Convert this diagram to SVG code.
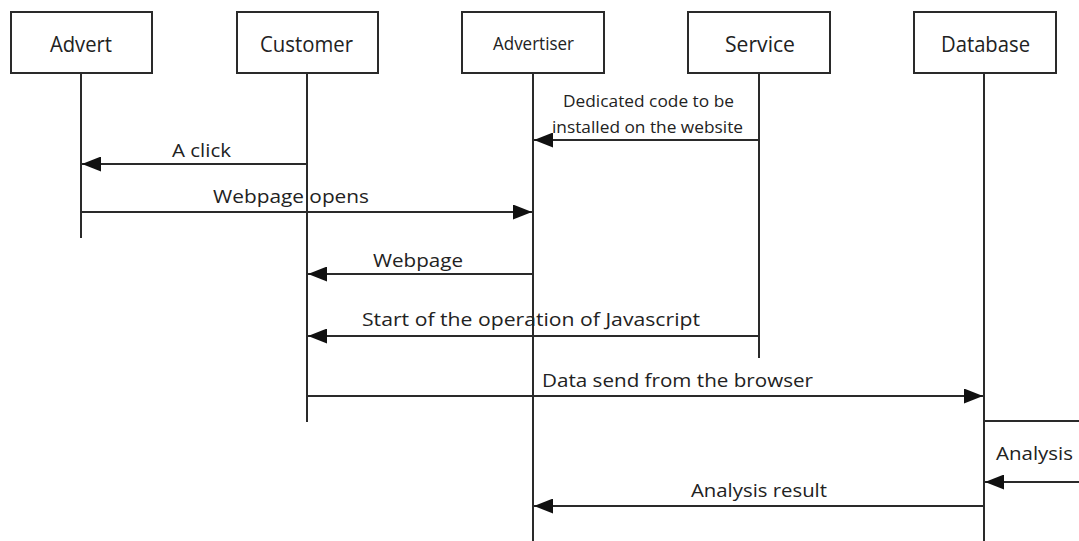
<svg xmlns="http://www.w3.org/2000/svg" width="1079" height="541" viewBox="0 0 1079 541">
<style>
.box{fill:#fff;stroke:#2a2a2a;stroke-width:2}
.life{stroke:#2a2a2a;stroke-width:2;fill:none}
.msg{stroke:#2a2a2a;stroke-width:2;fill:none}
text{font-family:"Open Sans","Liberation Sans",Arial,sans-serif;fill:#222}
.lbl{font-size:21px}
.m{font-size:19px}
</style>
<defs>
<marker id="ah" markerWidth="19" markerHeight="15" refX="19" refY="7.5" orient="auto" markerUnits="userSpaceOnUse">
<path d="M0,0 L19,7.5 L0,15 Z" fill="#111"/>
</marker>
</defs>
<rect width="1079" height="541" fill="#fff"/>
<g id="advert">
<rect class="box" x="11" y="12" width="141" height="61"/>
<text class="lbl" x="50" y="52" textLength="62" lengthAdjust="spacingAndGlyphs">Advert</text>
<line class="life" x1="81" y1="73" x2="81" y2="238"/>
</g>
<g id="customer">
<rect class="box" x="237" y="12" width="141" height="61"/>
<text class="lbl" x="260" y="52" textLength="93" lengthAdjust="spacingAndGlyphs">Customer</text>
<line class="life" x1="307" y1="73" x2="307" y2="422"/>
</g>
<g id="advertiser">
<rect class="box" x="462" y="12" width="142" height="61"/>
<text x="493" y="50" font-size="18" textLength="81" lengthAdjust="spacingAndGlyphs">Advertiser</text>
<line class="life" x1="533" y1="73" x2="533" y2="541"/>
</g>
<g id="service">
<rect class="box" x="688" y="12" width="142" height="61"/>
<text class="lbl" x="725" y="52" textLength="70" lengthAdjust="spacingAndGlyphs">Service</text>
<line class="life" x1="759" y1="73" x2="759" y2="358"/>
</g>
<g id="database">
<rect class="box" x="914" y="12" width="142" height="61"/>
<text class="lbl" x="941" y="52" textLength="89" lengthAdjust="spacingAndGlyphs">Database</text>
<line class="life" x1="984" y1="73" x2="984" y2="541"/>
</g>
<g id="connectors">
<line class="msg" x1="759" y1="140" x2="534" y2="140" marker-end="url(#ah)"/>
<text x="563" y="107" font-size="17" textLength="171" lengthAdjust="spacingAndGlyphs">Dedicated code to be</text>
<text x="552" y="133" font-size="17" textLength="191" lengthAdjust="spacingAndGlyphs">installed on the website</text>
<line class="msg" x1="307" y1="164" x2="82" y2="164" marker-end="url(#ah)"/>
<text class="m" x="172" y="157" textLength="59" lengthAdjust="spacingAndGlyphs">A click</text>
<line class="msg" x1="81" y1="212" x2="532" y2="212" marker-end="url(#ah)"/>
<text class="m" x="213" y="203" textLength="156" lengthAdjust="spacingAndGlyphs">Webpage opens</text>
<line class="msg" x1="533" y1="274" x2="308" y2="274" marker-end="url(#ah)"/>
<text class="m" x="373" y="267" textLength="90" lengthAdjust="spacingAndGlyphs">Webpage</text>
<line class="msg" x1="759" y1="336" x2="308" y2="336" marker-end="url(#ah)"/>
<text class="m" x="362" y="326" textLength="338" lengthAdjust="spacingAndGlyphs">Start of the operation of Javascript</text>
<line class="msg" x1="307" y1="396" x2="983" y2="396" marker-end="url(#ah)"/>
<text class="m" x="542" y="387" textLength="271" lengthAdjust="spacingAndGlyphs">Data send from the browser</text>
<line class="msg" x1="984" y1="421" x2="1079" y2="421"/>
<line class="msg" x1="1079" y1="482" x2="985" y2="482" marker-end="url(#ah)"/>
<text class="m" x="996" y="460" textLength="77" lengthAdjust="spacingAndGlyphs">Analysis</text>
<line class="msg" x1="984" y1="506" x2="534" y2="506" marker-end="url(#ah)"/>
<text class="m" x="691" y="497" textLength="136" lengthAdjust="spacingAndGlyphs">Analysis result</text>
</g>
</svg>
